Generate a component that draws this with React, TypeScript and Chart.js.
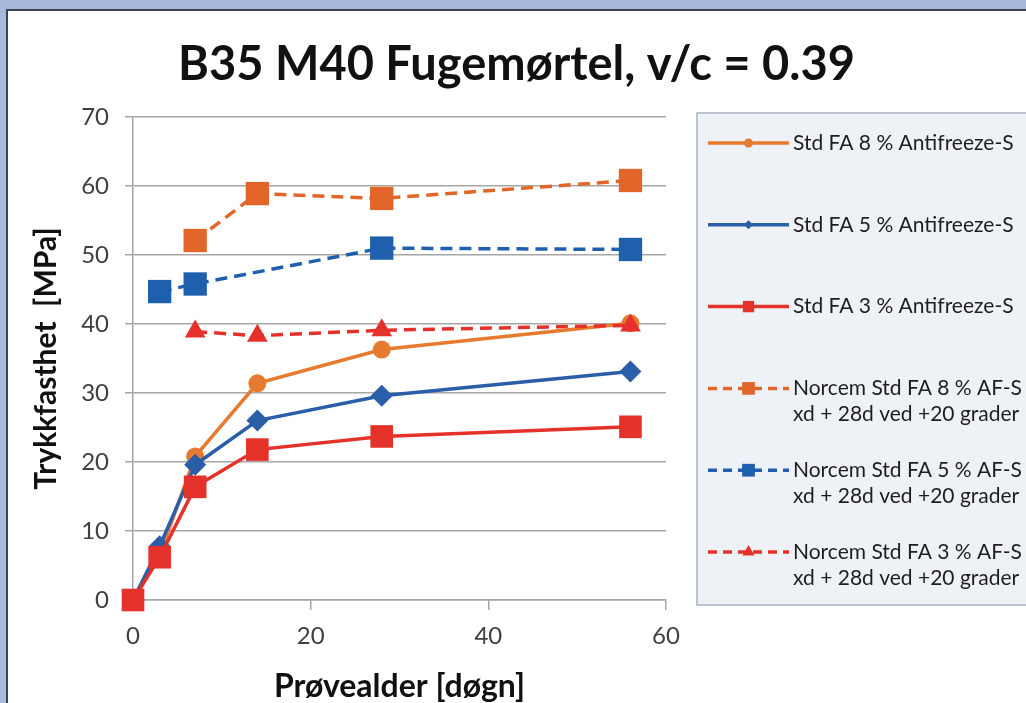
import React, { useEffect, useRef } from 'react';
import { Chart, registerables } from 'chart.js';

Chart.register(...registerables);

const TITLE = 'B35 M40 Fugemørtel, v/c = 0.39';
const X_TITLE = 'Prøvealder [døgn]';
const Y_TITLE = 'Trykkfasthet  [MPa]';

const SERIES_LABELS = [
  ['Std FA 8 % Antifreeze-S'],
  ['Std FA 5 % Antifreeze-S'],
  ['Std FA 3 % Antifreeze-S'],
  ['Norcem Std FA 8 % AF-S', 'xd + 28d ved +20 grader'],
  ['Norcem Std FA 5 % AF-S', 'xd + 28d ved +20 grader'],
  ['Norcem Std FA 3 % AF-S', 'xd + 28d ved +20 grader'],
];

const DAYS_STD = [0, 3, 7, 14, 28, 56];
const STD_8 = [0, 6.5, 20.8, 31.4, 36.3, 40.1];
const STD_5 = [0, 7.8, 19.6, 26.0, 29.6, 33.1];
const STD_3 = [0, 6.2, 16.4, 21.8, 23.7, 25.1];

const DAYS_N8 = [7, 14, 28, 56];
const NORCEM_8 = [52.1, 58.9, 58.2, 60.8];
const DAYS_N5 = [3, 7, 28, 56];
const NORCEM_5 = [44.7, 45.8, 51.0, 50.8];
const DAYS_N3 = [7, 14, 28, 56];
const NORCEM_3 = [38.9, 38.3, 39.1, 39.8];

const X_MIN = 0;
const X_MAX = 60;
const X_STEP = 20;
const Y_MIN = 0;
const Y_MAX = 70;
const Y_STEP = 10;

const FONT = 'Lato, "Open Sans", sans-serif';

function pts(xs: number[], ys: number[]) {
  return xs.map((x, i) => ({ x, y: ys[i] }));
}

type Style = {
  color: string;
  dash: number[];
  pointStyle: string;
  radius: number;
  legendRadius: number;
};

const STYLES: Style[] = [
  { color: '#e67a2e', dash: [], pointStyle: 'circle', radius: 9, legendRadius: 4.5 },
  { color: '#2a5ea8', dash: [], pointStyle: 'rectRot', radius: 11, legendRadius: 4.5 },
  { color: '#e4322a', dash: [], pointStyle: 'rect', radius: 16, legendRadius: 8 },
  { color: '#e2652a', dash: [12, 7], pointStyle: 'rect', radius: 16.5, legendRadius: 9 },
  { color: '#1e5fae', dash: [12, 7], pointStyle: 'rect', radius: 16.5, legendRadius: 9 },
  { color: '#e4322a', dash: [12, 7], pointStyle: 'triangle', radius: 12, legendRadius: 7 },
];

function drawMarker(ctx: CanvasRenderingContext2D, style: string, x: number, y: number, r: number) {
  ctx.beginPath();
  if (style === 'circle') {
    ctx.arc(x, y, r, 0, Math.PI * 2);
  } else if (style === 'rectRot') {
    ctx.moveTo(x, y - r);
    ctx.lineTo(x + r, y);
    ctx.lineTo(x, y + r);
    ctx.lineTo(x - r, y);
    ctx.closePath();
  } else if (style === 'rect') {
    const s = Math.SQRT1_2 * r;
    ctx.rect(x - s, y - s, 2 * s, 2 * s);
  } else if (style === 'triangle') {
    ctx.moveTo(x, y - r);
    ctx.lineTo(x + r * 0.866, y + r * 0.5);
    ctx.lineTo(x - r * 0.866, y + r * 0.5);
    ctx.closePath();
  }
  ctx.fill();
}

const framePlugin = {
  id: 'frame',
  beforeDraw(chart: any) {
    const { ctx, width, height } = chart;
    ctx.save();
    ctx.fillStyle = '#a7badb';
    ctx.fillRect(0, 0, width, height);
    ctx.fillStyle = '#ffffff';
    ctx.fillRect(7, 10, width - 7, height - 10);
    ctx.strokeStyle = '#3b4352';
    ctx.lineWidth = 2;
    ctx.beginPath();
    ctx.moveTo(7, height);
    ctx.lineTo(7, 10);
    ctx.lineTo(width, 10);
    ctx.stroke();
    ctx.restore();
  },
};

const legendPlugin = {
  id: 'customLegend',
  afterDraw(chart: any) {
    const { ctx } = chart;
    const boxX = 697;
    const boxY = 113;
    const boxW = 340;
    const boxH = 492;
    ctx.save();
    ctx.fillStyle = '#eef1f6';
    ctx.fillRect(boxX, boxY, boxW, boxH);
    ctx.strokeStyle = '#a9b1c2';
    ctx.lineWidth = 1.5;
    ctx.strokeRect(boxX, boxY, boxW, boxH);

    const rowStart = 143;
    const rowStep = 81.8;
    const lineGap = 26;
    const sampleX0 = 708;
    const sampleX1 = 789;
    const textX = 793;
    chart.data.datasets.forEach((ds: any, i: number) => {
      const st = STYLES[i];
      const y = rowStart + i * rowStep;
      ctx.strokeStyle = st.color;
      ctx.fillStyle = st.color;
      ctx.lineWidth = 3.5;
      ctx.setLineDash(st.dash.length ? [9, 6] : []);
      ctx.beginPath();
      ctx.moveTo(sampleX0, y);
      ctx.lineTo(sampleX1, y);
      ctx.stroke();
      ctx.setLineDash([]);
      drawMarker(ctx, st.pointStyle, (sampleX0 + sampleX1) / 2, y, st.legendRadius);
      ctx.fillStyle = '#1e1e1e';
      ctx.font = '21px ' + FONT;
      ctx.textBaseline = 'middle';
      ctx.textAlign = 'left';
      const lines: string[] = ds.labelLines;
      lines.forEach((t, j) => ctx.fillText(t, textX, y + j * lineGap));
    });
    ctx.restore();
  },
};

export default function App() {
  const ref = useRef<HTMLCanvasElement | null>(null);

  useEffect(() => {
    document.body.style.margin = '0';
    const canvas = ref.current;
    if (!canvas) return;

    const seriesData = [
      pts(DAYS_STD, STD_8),
      pts(DAYS_STD, STD_5),
      pts(DAYS_STD, STD_3),
      pts(DAYS_N8, NORCEM_8),
      pts(DAYS_N5, NORCEM_5),
      pts(DAYS_N3, NORCEM_3),
    ];

    const datasets = seriesData.map((data, i) => {
      const st = STYLES[i];
      return {
        label: SERIES_LABELS[i].join(' '),
        labelLines: SERIES_LABELS[i],
        data,
        borderColor: st.color,
        backgroundColor: st.color,
        borderWidth: 3.5,
        borderDash: st.dash,
        pointStyle: st.pointStyle,
        pointRadius: st.radius,
        pointBorderWidth: 0,
        pointBackgroundColor: st.color,
        tension: 0,
        fill: false,
        clip: false,
        order: SERIES_LABELS.length - i,
      };
    });

    const chart = new Chart(canvas, {
      type: 'line',
      data: { datasets } as any,
      options: {
        responsive: false,
        animation: false,
        devicePixelRatio: 1,
        layout: { padding: { top: 10, left: 7, right: 0, bottom: 0 } },
        plugins: {
          legend: { display: false },
          tooltip: { enabled: false },
          title: {
            display: true,
            text: TITLE,
            color: '#111111',
            font: { family: FONT, size: 47, weight: 'bold', lineHeight: 1.2 },
            padding: { top: 27, bottom: 23.6 },
          },
        },
        scales: {
          x: {
            type: 'linear',
            min: X_MIN,
            max: X_MAX,
            ticks: {
              stepSize: X_STEP,
              color: '#404040',
              font: { family: FONT, size: 24 },
              padding: 12,
              maxRotation: 0,
            },
            grid: {
              drawOnChartArea: false,
              drawTicks: true,
              tickLength: 10,
              color: '#a6a6a6',
              lineWidth: 1.5,
            },
            border: { color: '#a6a6a6', width: 1.5 },
            title: {
              display: true,
              text: X_TITLE,
              color: '#111111',
              font: { family: FONT, size: 32, weight: 'bold', lineHeight: 1.0 },
              padding: { top: 0, bottom: 0 },
            },
            afterFit: (s: any) => {
              s.height = 103;
            },
          },
          y: {
            type: 'linear',
            min: Y_MIN,
            max: Y_MAX,
            ticks: {
              stepSize: Y_STEP,
              color: '#404040',
              font: { family: FONT, size: 24 },
              padding: 16,
            },
            grid: {
              color: '#a6a6a6',
              lineWidth: 1.5,
              tickLength: 8,
            },
            border: { color: '#a6a6a6', width: 1.5 },
            title: {
              display: true,
              text: Y_TITLE,
              color: '#111111',
              font: { family: FONT, size: 30, weight: 'bold', lineHeight: 1.0 },
              padding: { top: 24, bottom: 0 },
            },
            afterFit: (s: any) => {
              s.width = 126;
            },
          },
          legendSpace: {
            type: 'linear',
            position: 'right',
            display: true,
            grid: { display: false, drawTicks: false },
            ticks: { display: false },
            border: { display: false },
            afterFit: (s: any) => {
              s.width = 360;
            },
          },
        },
      } as any,
      plugins: [framePlugin, legendPlugin],
    });

    return () => chart.destroy();
  }, []);

  return (
    <div style={{ position: 'absolute', left: 0, top: 0, width: 1026, height: 703 }}>
      <canvas ref={ref} width={1026} height={703} style={{ display: 'block' }} />
    </div>
  );
}
